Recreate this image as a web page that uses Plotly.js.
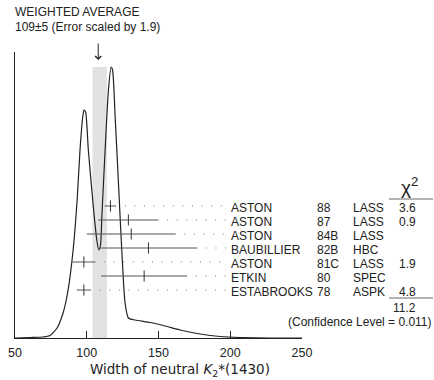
<!DOCTYPE html>
<html>
<head>
<meta charset="utf-8">
<script src="https://cdn.plot.ly/plotly-3.0.1.min.js"></script>
<style>html,body{margin:0;padding:0;background:#fff;}#chart{width:434px;height:380px;}</style>
</head>
<body>
<div id="chart"></div>
<script>
// Measurements (top to bottom)
const names  = ['ASTON','ASTON','ASTON','BAUBILLIER','ASTON','ETKIN','ESTABROOKS'];
const years  = ['88','87','84B','82B','81C','80','78'];
const techs  = ['LASS','LASS','LASS','HBC','LASS','SPEC','ASPK'];
const values = [116.5, 129, 131, 143, 98, 140, 98];
const errors = [4, 21, 31, 34, 8, 30, 5];
const chi2   = ['3.6','0.9','','','1.9','','4.8'];
const chi2Total = '11.2';
const confLevel = '0.011';
// Weighted average
const avgValue = 109;
const avgError = 5;
const errScale = '1.9';
// Ideogram curve
const ideoX = [50, 60.5, 69.5, 74.4, 79.3, 83.5, 87, 90.5, 93.3, 95.3, 97.2, 98.1, 99.2, 101.1, 104.6, 107, 108.4, 109.6, 110.5, 112.8, 115.1, 117, 118, 119.8, 122.1, 124.4, 126.7, 129, 133.7, 144.2, 154.6, 165.1, 179, 193, 207, 228, 250];
const ideoY = [0, 0.5, 1, 2.5, 10, 25, 48, 88, 138, 188, 221, 228, 226, 188, 131, 98, 88, 93, 121, 188, 248, 271, 268, 221, 155, 88, 35, 20, 18, 15.5, 12, 8, 4, 1.5, 0.5, 0, 0];
const xTicks = [50, 100, 150, 200, 250];
const xTitle = 'Width of neutral <i>K</i><sub>2</sub>*(1430)';

// layout helpers (pixel geometry)
const L = 15, R = 302, T = 52, B = 338;
const W = R - L, H = B - T;
const px2paperX = p => (p - L) / W;
const px2paperY = p => (B - p) / H;
const px2dataY = p => B - p;
const rowY = i => px2dataY(206 + 14 * i);

const txtColor = '#222';
const font = {family: 'Liberation Sans, Arial, sans-serif', size: 12, color: txtColor};

const traces = [];
// dotted leaders
values.forEach((v, i) => {
  traces.push({
    x: [v + errors[i] + 6, 197], y: [rowY(i), rowY(i)],
    mode: 'lines', line: {color: '#777', width: 1, dash: '1px,8.6px'},
    hoverinfo: 'skip', showlegend: false
  });
});
// ideogram curve
traces.push({
  x: ideoX, y: ideoY, mode: 'lines',
  line: {color: '#222', width: 1.2, shape: 'spline', smoothing: 0.6},
  hoverinfo: 'skip', showlegend: false
});
// measurements with error bars
traces.push({
  x: values, y: values.map((v, i) => rowY(i)),
  mode: 'markers',
  marker: {symbol: 'line-ns', size: 8, line: {width: 1, color: '#333'}, color: '#333'},
  error_x: {type: 'data', array: errors, width: 0, thickness: 1, color: '#555'},
  hoverinfo: 'skip', showlegend: false
});

const ann = [];
const addText = (text, xp, yd, anchor, extra) => ann.push(Object.assign({
  text: text, xref: 'paper', yref: 'y', x: xp, y: yd, xanchor: anchor, yanchor: 'middle',
  showarrow: false, font: font, borderpad: 0
}, extra || {}));

names.forEach((n, i) => {
  const y = rowY(i) - 1.5;
  addText(n, px2paperX(230), y, 'left');
  addText(years[i], px2paperX(316), y, 'left');
  addText(techs[i], px2paperX(352), y, 'left');
  if (chi2[i]) addText(chi2[i], px2paperX(417), y, 'right');
});
addText('χ<sup>2</sup>', px2paperX(409), px2dataY(186), 'center', {font: {family: font.family, size: 19, color: txtColor}});
addText(chi2Total, px2paperX(417), px2dataY(308), 'right');
addText('(Confidence Level = ' + confLevel + ')', px2paperX(433), px2dataY(322), 'right');
// title lines
ann.push({text: 'WEIGHTED AVERAGE', xref: 'paper', yref: 'paper', x: px2paperX(14), y: px2paperY(12),
  xanchor: 'left', yanchor: 'middle', showarrow: false, font: font, borderpad: 0});
ann.push({text: avgValue + '±' + avgError + ' (Error scaled by ' + errScale + ')', xref: 'paper', yref: 'paper',
  x: px2paperX(14), y: px2paperY(27), xanchor: 'left', yanchor: 'middle', showarrow: false, font: font, borderpad: 0});
// x-axis title
ann.push({text: xTitle, xref: 'paper', yref: 'paper', x: px2paperX(180), y: px2paperY(370),
  xanchor: 'center', yanchor: 'middle', showarrow: false, borderpad: 0,
  font: {family: 'DejaVu Sans, sans-serif', size: 13.5, color: txtColor}});
// arrow to the average
ann.push({text: '', xref: 'x', yref: 'y', x: avgValue - 1, y: px2dataY(60), ax: 0, ay: -18,
  showarrow: true, arrowhead: 4, arrowsize: 1.2, arrowwidth: 1, arrowcolor: '#222'});

const shapes = [
  {type: 'rect', xref: 'x', yref: 'y', x0: avgValue - avgError, x1: avgValue + avgError,
   y0: 0, y1: Math.max(...ideoY), fillcolor: '#e2e2e2', line: {width: 0}, layer: 'below'},
  {type: 'line', xref: 'paper', yref: 'y', x0: px2paperX(389), x1: px2paperX(433),
   y0: px2dataY(199), y1: px2dataY(199), line: {color: '#666', width: 1}},
  {type: 'line', xref: 'paper', yref: 'y', x0: px2paperX(389), x1: px2paperX(433),
   y0: px2dataY(298), y1: px2dataY(298), line: {color: '#666', width: 1}}
];

const layout = {
  width: 434, height: 380,
  margin: {l: L, r: 434 - R, t: T, b: 380 - B, pad: 0},
  paper_bgcolor: '#fff', plot_bgcolor: '#fff',
  font: font,
  showlegend: false,
  xaxis: {
    range: [50, 250], tickvals: xTicks, ticktext: xTicks.map(String),
    ticks: 'inside', ticklen: 7, tickwidth: 1, tickcolor: '#222', ticklabelstandoff: 3,
    showline: true, linecolor: '#222', linewidth: 1, showgrid: false, zeroline: false,
    tickfont: {family: font.family, size: 12.5, color: txtColor},
    fixedrange: true
  },
  yaxis: {
    range: [0, H], showline: true, linecolor: '#222', linewidth: 1,
    showticklabels: false, ticks: '', showgrid: false, zeroline: false, fixedrange: true
  },
  annotations: ann,
  shapes: shapes
};

Plotly.newPlot('chart', traces, layout, {displayModeBar: false, staticPlot: true});
</script>
</body>
</html>
